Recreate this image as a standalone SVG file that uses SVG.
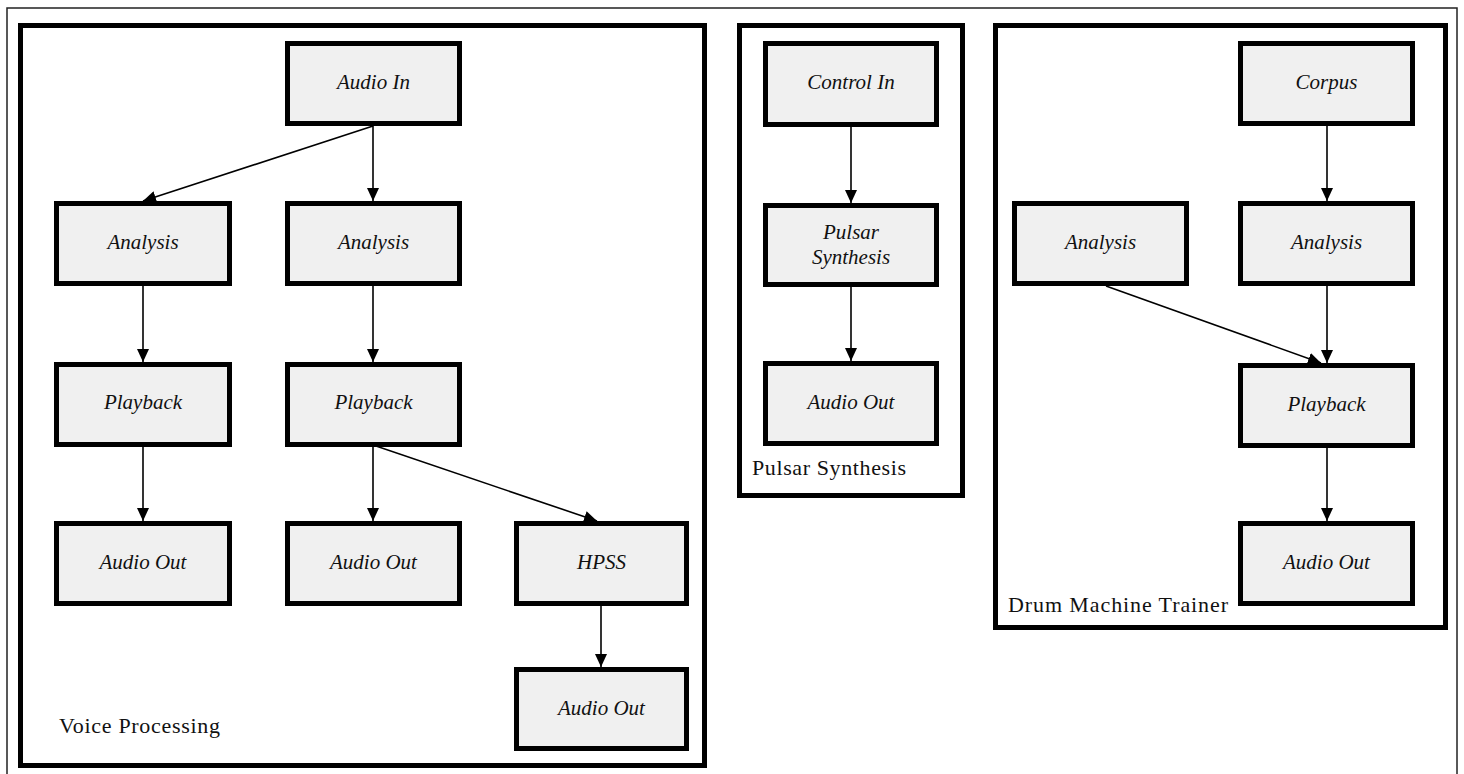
<svg xmlns="http://www.w3.org/2000/svg" width="1464" height="774" viewBox="0 0 1464 774">
<style>
.frame{fill:none;stroke:#000;stroke-width:5}
.node rect{fill:#f0f0f0;stroke:#000;stroke-width:5}
.node text{font-family:"Liberation Serif","Times New Roman",serif;font-style:italic;font-size:21px;fill:#111;text-anchor:middle}
.glabel{font-family:"Liberation Serif","Times New Roman",serif;font-size:22px;fill:#111}
.edge{stroke:#000;stroke-width:1.6;fill:none;marker-end:url(#arr)}
</style>
<defs>
<marker id="arr" markerUnits="userSpaceOnUse" markerWidth="14" markerHeight="12" refX="13" refY="6" orient="auto">
<path d="M0,0 L13,6 L0,12 Z" fill="#000"/>
</marker>
</defs>
<rect x="0" y="0" width="1464" height="774" fill="#fff"/>
<rect x="7" y="8" width="1450" height="790" fill="none" stroke="#222" stroke-width="1.5"/>

<g id="group-voice">
<rect class="frame" x="20.5" y="25.5" width="684" height="740"/>
<text class="glabel" x="59" y="733" textLength="161" lengthAdjust="spacing">Voice Processing</text>
</g>
<g id="group-pulsar">
<rect class="frame" x="739.5" y="25.5" width="223" height="470"/>
<text class="glabel" x="752" y="475" textLength="154" lengthAdjust="spacing">Pulsar Synthesis</text>
</g>
<g id="group-drum">
<rect class="frame" x="995.5" y="25.5" width="450" height="602"/>
<text class="glabel" x="1008" y="612" textLength="220" lengthAdjust="spacing">Drum Machine Trainer</text>
</g>

<g id="connectors">
<line class="edge" x1="373" y1="126" x2="143" y2="201"/>
<line class="edge" x1="373" y1="126" x2="373" y2="201"/>
<line class="edge" x1="143" y1="286" x2="143" y2="362"/>
<line class="edge" x1="373" y1="286" x2="373" y2="362"/>
<line class="edge" x1="143" y1="446" x2="143" y2="521"/>
<line class="edge" x1="373" y1="446" x2="373" y2="521"/>
<line class="edge" x1="376" y1="446" x2="597" y2="521"/>
<line class="edge" x1="601" y1="605" x2="601" y2="667"/>
<line class="edge" x1="851" y1="126" x2="851" y2="203"/>
<line class="edge" x1="851" y1="287" x2="851" y2="361"/>
<line class="edge" x1="1327" y1="126" x2="1327" y2="201"/>
<line class="edge" x1="1327" y1="286" x2="1327" y2="363"/>
<line class="edge" x1="1106" y1="286" x2="1321" y2="363"/>
<line class="edge" x1="1327" y1="447" x2="1327" y2="521"/>
</g>

<g id="n-audio-in" class="node"><rect x="287.5" y="43.5" width="172" height="80"/><text x="373.5" y="89">Audio In</text></g>
<g id="n-analysis-1" class="node"><rect x="56.5" y="203.5" width="173" height="80"/><text x="143" y="249">Analysis</text></g>
<g id="n-analysis-2" class="node"><rect x="287.5" y="203.5" width="172" height="80"/><text x="373.5" y="249">Analysis</text></g>
<g id="n-playback-1" class="node"><rect x="56.5" y="364.5" width="173" height="80"/><text x="143" y="409">Playback</text></g>
<g id="n-playback-2" class="node"><rect x="287.5" y="364.5" width="172" height="80"/><text x="373.5" y="409">Playback</text></g>
<g id="n-audio-out-1" class="node"><rect x="56.5" y="523.5" width="173" height="80"/><text x="143" y="569">Audio Out</text></g>
<g id="n-audio-out-2" class="node"><rect x="287.5" y="523.5" width="172" height="80"/><text x="373.5" y="569">Audio Out</text></g>
<g id="n-hpss" class="node"><rect x="516.5" y="523.5" width="170" height="80"/><text x="601.5" y="569">HPSS</text></g>
<g id="n-audio-out-3" class="node"><rect x="516.5" y="669.5" width="170" height="79"/><text x="601.5" y="715">Audio Out</text></g>

<g id="n-control-in" class="node"><rect x="765.5" y="43.5" width="171" height="81"/><text x="851" y="89">Control In</text></g>
<g id="n-pulsar" class="node"><rect x="765.5" y="205.5" width="171" height="79"/><text x="851" y="239">Pulsar</text><text x="851" y="264">Synthesis</text></g>
<g id="n-audio-out-p" class="node"><rect x="765.5" y="363.5" width="171" height="80"/><text x="851" y="409">Audio Out</text></g>

<g id="n-corpus" class="node"><rect x="1240.5" y="43.5" width="172" height="80"/><text x="1326.5" y="89">Corpus</text></g>
<g id="n-analysis-d1" class="node"><rect x="1014.5" y="203.5" width="172" height="80"/><text x="1100.5" y="249">Analysis</text></g>
<g id="n-analysis-d2" class="node"><rect x="1240.5" y="203.5" width="172" height="80"/><text x="1326.5" y="249">Analysis</text></g>
<g id="n-playback-d" class="node"><rect x="1240.5" y="365.5" width="172" height="80"/><text x="1326.5" y="411">Playback</text></g>
<g id="n-audio-out-d" class="node"><rect x="1240.5" y="523.5" width="172" height="80"/><text x="1326.5" y="569">Audio Out</text></g>
</svg>
